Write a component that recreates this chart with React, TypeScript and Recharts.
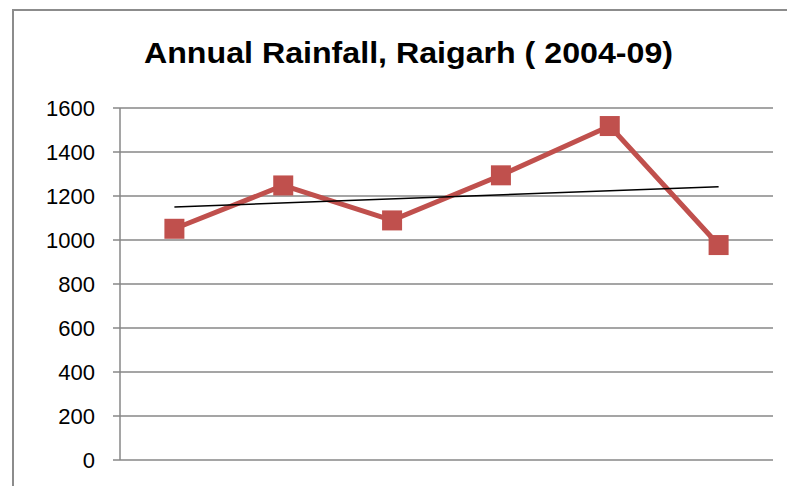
import { LineChart, Line, XAxis, YAxis, CartesianGrid } from 'recharts'

const years = ['2004', '2005', '2006', '2007', '2008', '2009']
const rainfall = [1051, 1248, 1089, 1294, 1518, 977]
// linear trend line, only the two end values are drawn
const trend = [1150, null, null, null, null, 1242]
const yTicks = [0, 200, 400, 600, 800, 1000, 1200, 1400, 1600]

const chartData = years.map((year, i) => ({
  year,
  rainfall: rainfall[i],
  trend: trend[i],
}))

const RED = '#C0504D'
const GRID = '#878787'

function SquareDot(props: { cx?: number; cy?: number; index?: number }) {
  const { cx, cy, index } = props
  if (cx == null || cy == null) return null
  return <rect key={`dot-${index}`} x={cx - 10} y={cy - 10} width={20} height={20} fill={RED} />
}

export default function App() {
  return (
    <div
      style={{
        position: 'fixed',
        left: 0,
        top: 0,
        width: 787,
        height: 486,
        overflow: 'hidden',
        background: '#fff',
        fontFamily: '"Liberation Sans", Arial, sans-serif',
      }}
    >
      <div
        style={{
          position: 'absolute',
          left: 12,
          top: 9,
          width: 820,
          height: 520,
          border: '2px solid #8c8c8c',
          boxSizing: 'border-box',
        }}
      />
      <svg width={787} height={486} style={{ position: 'absolute', left: 0, top: 0 }}>
        <text
          x={144}
          y={63}
          fontSize={30}
          fontWeight="bold"
          fill="#000"
          textLength={529}
          lengthAdjust="spacingAndGlyphs"
          fontFamily='"Liberation Sans", Arial, sans-serif'
        >
          Annual Rainfall, Raigarh ( 2004-09)
        </text>
      </svg>
      <div style={{ position: 'absolute', left: 0, top: 0 }}>
        <LineChart
          width={787}
          height={486}
          data={chartData}
          margin={{ top: 108, right: 14, bottom: 26, left: 0 }}
        >
          <CartesianGrid vertical={false} stroke={GRID} strokeWidth={1.5} />
          <XAxis
            dataKey="year"
            hide
            padding={{ left: 54.4, right: 54.4 }}
          />
          <YAxis
            width={120}
            domain={[0, 1600]}
            ticks={yTicks}
            interval={0}
            stroke={GRID}
            strokeWidth={1.5}
            tickSize={7}
            tickMargin={18}
            tick={{ fill: '#000', fontSize: 22, fontFamily: '"Liberation Sans", Arial, sans-serif' }}
          />
          <Line
            dataKey="rainfall"
            stroke={RED}
            strokeWidth={5}
            type="linear"
            dot={SquareDot}
            activeDot={false}
            isAnimationActive={false}
          />
          <Line
            dataKey="trend"
            stroke="#000"
            strokeWidth={1.5}
            type="linear"
            connectNulls
            dot={false}
            activeDot={false}
            isAnimationActive={false}
          />
        </LineChart>
      </div>
    </div>
  )
}
